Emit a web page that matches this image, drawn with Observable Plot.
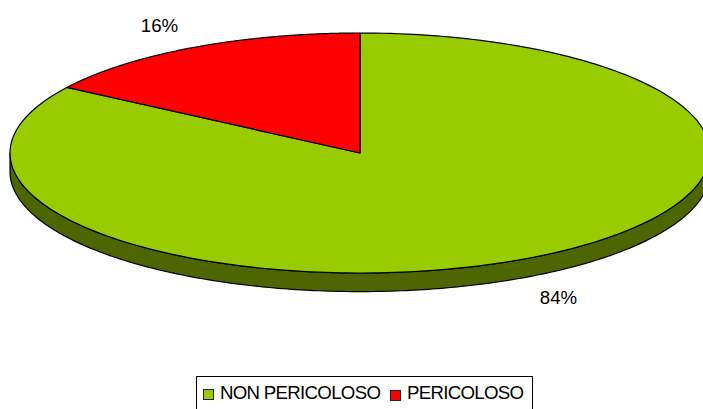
<!DOCTYPE html>
<html>
<head>
<meta charset="utf-8">
<script src="https://cdn.jsdelivr.net/npm/d3@7"></script>
<script src="https://cdn.jsdelivr.net/npm/@observablehq/plot@0.6"></script>
<style>
html,body{margin:0;padding:0;background:#fff;overflow:hidden;width:703px;height:409px}
svg{display:block}
#legend{position:absolute;left:196px;top:376px;width:337px;height:33px;border:1px solid #000;border-bottom:none;box-sizing:border-box;
font:18.67px "Liberation Sans",Arial,sans-serif;letter-spacing:-0.7px;color:#000;white-space:nowrap}
#legend span{position:absolute;top:5px;line-height:22px}
#legend i{position:absolute;width:11px;height:11px;border:1px solid #222;box-sizing:border-box}
</style>
</head>
<body>
<div id="chart"></div>
<div id="legend"></div>
<script>
const categories = ["NON PERICOLOSO", "PERICOLOSO"];
const shares = [84.2, 15.8];
const labels = ["84%", "16%"];
const topColors = ["#99cc00", "#ff0000"];
const sideColor = "#4d6600";
const labelX = [0.567, -0.573];
const labelY = [-1.21, 1.057];
const legendSwatchX = [6, 193];
const legendSwatchY = [12, 13];
const legendTextX = [23, 210];
const depth = 0.155;

const total = d3.sum(shares);
const pt = (t, dy = 0) => ({x: Math.sin(t), y: Math.cos(t) - dy});
const arc = (a0, a1, dy = 0) => d3.range(0, 241).map(i => pt(a0 + (a1 - a0) * i / 240, dy));

let cum = 0;
const slices = [];
categories.forEach((c, i) => {
  const a0 = cum / total * 2 * Math.PI;
  cum += shares[i];
  const a1 = cum / total * 2 * Math.PI;
  const points = [{x: 0, y: 0}, ...arc(a0, a1), {x: 0, y: 0}];
  points.forEach(p => slices.push({...p, category: c}));
});
// Side wall: the lower half of the rim swept downward
const side = [...arc(Math.PI / 2, 3 * Math.PI / 2), ...arc(Math.PI / 2, 3 * Math.PI / 2, depth).reverse()];
side.push(side[0]);

const textData = labels.map((t, i) => ({t, x: labelX[i], y: labelY[i]}));

document.getElementById("chart").append(Plot.plot({
  width: 703, height: 376,
  margin: 0,
  x: {domain: [-1, 1], range: [9.5, 709.5], axis: null},
  y: {domain: [1, -1], range: [32.5, 272.5], axis: null},
  color: {domain: categories, range: topColors},
  style: {background: "transparent", overflow: "hidden"},
  marks: [
    Plot.line(side, {x: "x", y: "y", fill: sideColor, stroke: "#000", strokeWidth: 1.2, curve: "linear", clip: false}),
    Plot.line(slices, {x: "x", y: "y", z: "category", fill: "category", stroke: "#000", strokeWidth: 1.2, curve: "linear", strokeLinejoin: "round"}),
    Plot.text(textData, {x: "x", y: "y", text: "t", fontSize: 18.67, fontFamily: "Liberation Sans", fill: "#000"})
  ]
}));

const legend = document.getElementById("legend");
categories.forEach((c, i) => {
  const sw = document.createElement("i");
  sw.style.left = legendSwatchX[i] + "px";
  sw.style.top = legendSwatchY[i] + "px";
  sw.style.background = topColors[i];
  legend.append(sw);
  const s = document.createElement("span");
  s.style.left = legendTextX[i] + "px";
  s.textContent = c;
  legend.append(s);
});
</script>
</body>
</html>
